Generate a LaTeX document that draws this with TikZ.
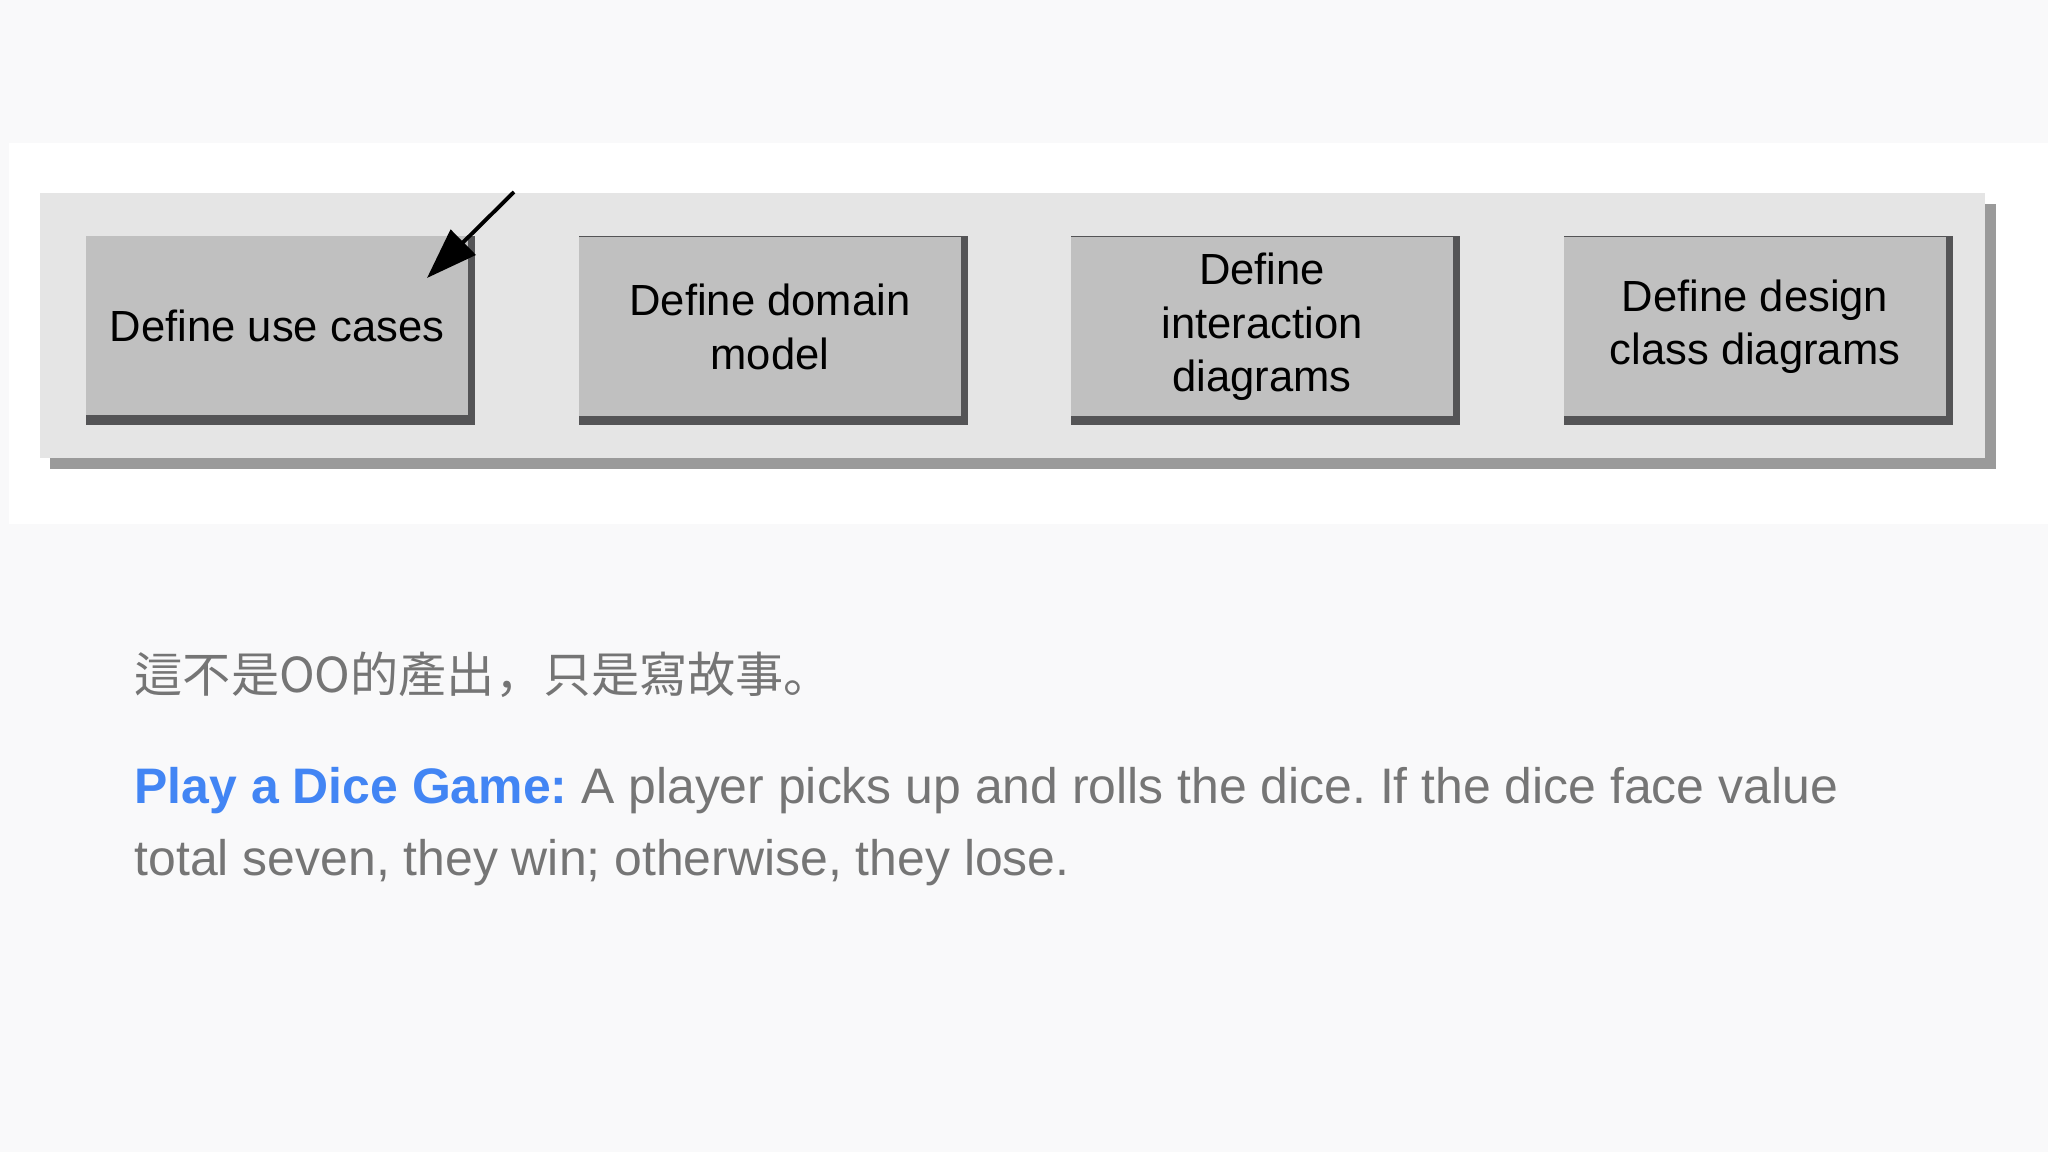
\documentclass[tikz,border=0pt]{standalone}
\usepackage{fontspec}
\setmainfont{Liberation Sans}
\newfontfamily\cjk{Noto Sans CJK JP}
\usetikzlibrary{arrows.meta}
\frenchspacing

\definecolor{pagebg}{RGB}{249,249,250}
\definecolor{panelfill}{RGB}{229,229,229}
\definecolor{panelshade}{RGB}{154,154,154}
\definecolor{boxfill}{RGB}{192,192,192}
\definecolor{boxshade}{RGB}{84,84,86}
\definecolor{bodygray}{RGB}{117,117,117}
\definecolor{titleblue}{RGB}{66,133,244}

\tikzset{
  stepbox/.style={fill=boxfill, minimum width=3.82cm, minimum height=1.79cm,
    inner sep=0pt, align=center, font=\fontsize{12.4}{15.2}\selectfont},
  bodytext/.style={anchor=base west, inner sep=0pt, text=bodygray,
    font=\fontsize{14.2}{20.5}\selectfont}
}

\begin{document}
\begin{tikzpicture}
  \useasboundingbox (0,0) rectangle (20.48,-11.52);
  \fill [pagebg] (0,0) rectangle (20.48,-11.52);
  \fill [white] (0.09,-1.43) rectangle (20.48,-5.24);

  % panel with its shadow
  \fill [panelshade] (0.50,-2.04) rectangle (19.96,-4.69);
  \fill [panelfill] (0.40,-1.93) rectangle (19.85,-4.58);

  % box shadows
  \foreach \x in {0.86,5.79,10.71,15.64}
    \fill [boxshade] (\x,-2.36) rectangle ++(3.89,-1.89);

  \node [stepbox] (usecases) at (2.77,-3.255) {Define use cases};
  \node [stepbox] (domain) at (7.70,-3.27) {Define domain\\model};
  \node [stepbox] (interact) at (12.62,-3.27) {Define\\interaction\\diagrams};
  \node [stepbox] (design) at (17.55,-3.27) {Define design\\class diagrams};

  \coordinate (tail) at (5.14,-1.92);
  \coordinate (tip) at (4.27,-2.78);
  \draw [line width=1.1pt, -{Triangle[length=5.1mm,width=3.5mm]}] (tail) -- (tip);

  % text below
  \node [bodytext, font=\cjk\fontsize{13.7}{16}\selectfont] (note) at (1.34,-6.93)
    {這不是OO的產出，只是寫故事。};
  \node [bodytext] (story1) at (1.34,-8.03)
    {\textcolor{titleblue}{\bfseries Play a Dice Game:} A player picks up and rolls the dice. If the dice face value};
  \node [bodytext] (story2) at (1.34,-8.75)
    {total seven, they win; otherwise, they lose.};
\end{tikzpicture}
\end{document}
